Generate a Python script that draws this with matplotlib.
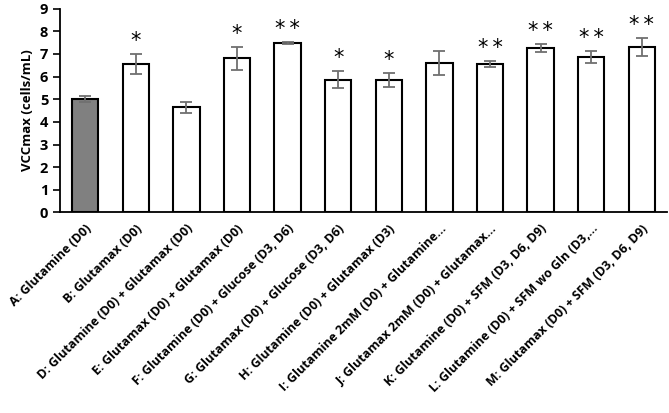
import matplotlib
matplotlib.use("Agg")
import matplotlib.pyplot as plt

labels = ["A: Glutamine (D0)", "B: Glutamax (D0)",
          "D: Glutamine (D0) + Glutamax (D0)",
          "E: Glutamax (D0) + Glutamax (D0)",
          "F: Glutamine (D0) + Glucose (D3, D6)",
          "G: Glutamax (D0) + Glucose (D3, D6)",
          "H: Glutamine (D0) + Glutamax (D3)",
          "I: Glutamine 2mM (D0) + Glutamine...",
          "J: Glutamax 2mM (D0) + Glutamax...",
          "K: Glutamine (D0) + SFM (D3, D6, D9)",
          "L: Glutamine (D0) + SFM wo Gln (D3,...",
          "M: Glutamax (D0) + SFM (D3, D6, D9)"]
values = [5.0, 6.55, 4.65, 6.8, 7.5, 5.86, 5.86, 6.58, 6.56, 7.27, 6.87, 7.3]
errors = [0.13, 0.45, 0.25, 0.52, 0.04, 0.38, 0.32, 0.53, 0.15, 0.18, 0.27, 0.40]
stars = ["", "*", "", "*", "**", "*", "*", "", "**", "**", "**", "**"]

plt.rcParams['font.family'] = ['Open Sans', 'DejaVu Sans']
plt.rcParams['font.weight'] = 'bold'

fig = plt.figure(figsize=(6.69, 4.13), dpi=100)
ax = fig.add_axes([0.0897, 0.4855, 0.9073, 0.4935])

x = list(range(len(values)))
colors = ['#808080'] + ['white'] * (len(values) - 1)
ax.bar(x, values, width=0.52, color=colors, edgecolor='black', linewidth=1.5,
       yerr=errors, error_kw=dict(ecolor='#707070', elinewidth=1.3, capsize=4, capthick=1.3),
       zorder=2)

for xi, v, e, s in zip(x, values, errors, stars):
    if s:
        ax.annotate("\u2009".join(s), (xi, v + e), xytext=(0, 2), textcoords='offset points',
                    ha='center', va='bottom', fontsize=15, fontweight='normal',
                    family='DejaVu Sans')

ax.set_xlim(-0.5, 11.5)
ax.set_ylim(0, 9)
ax.set_yticks(range(0, 10))
ax.set_xticks(x)
ax.set_xticklabels(labels, rotation=45, ha='right', rotation_mode='anchor', fontsize=9)
ax.tick_params(axis='x', length=0, pad=7)
ax.tick_params(axis='y', labelsize=10.5, length=5, width=1.2)
ax.set_ylabel('VCCmax (cells/mL)', fontsize=9.5, fontweight='bold')
for side in ['top', 'right']:
    ax.spines[side].set_visible(False)
for side in ['left', 'bottom']:
    ax.spines[side].set_linewidth(1.3)

fig.savefig('out.png', dpi=100)
